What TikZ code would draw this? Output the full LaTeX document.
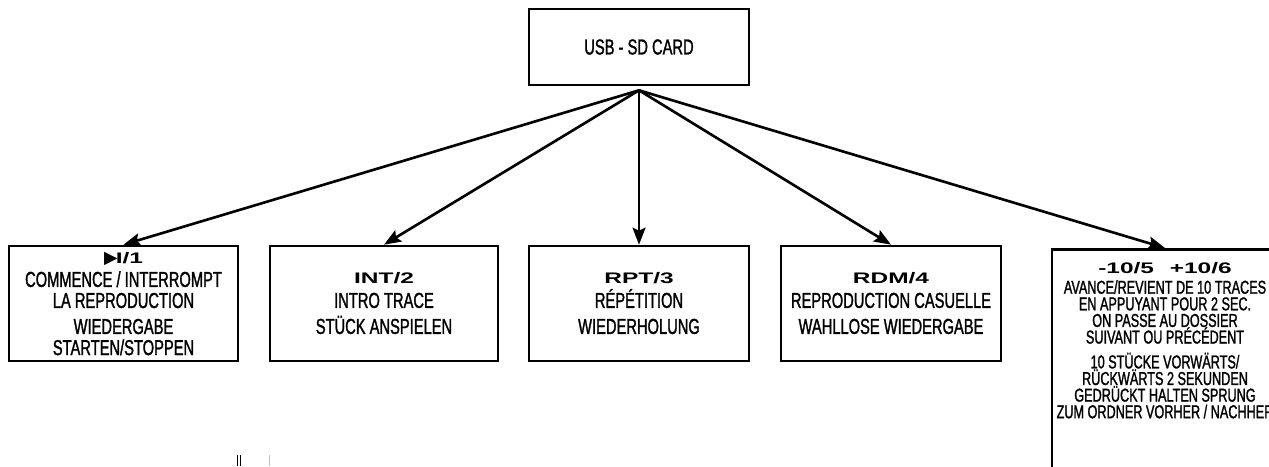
\documentclass[tikz,border=0pt]{standalone}
\usepackage{fontspec}
\setmainfont{Liberation Sans}[FakeStretch=0.68,FakeBold=1.3]
\newfontfamily\keyfont{Liberation Sans}[FakeStretch=1.6]
\newfontfamily\symfont{DejaVu Sans}
\usetikzlibrary{arrows.meta}
\newcommand{\key}[1]{{\keyfont\bfseries\fontsize{8.7}{12}\selectfont #1}}
\tikzset{
  box/.style={draw,line width=1.5pt,align=center,inner sep=0pt,minimum height=2.3cm,
    font=\fontsize{12.3}{12}\selectfont},
  arr/.style={line width=1.5pt,-{Stealth[length=0.34cm,width=0.26cm,inset=0.06cm]}}
}
\begin{document}
\begin{tikzpicture}
\path[use as bounding box,clip] (0,0) rectangle (25.38,9.32);
\node[box,minimum width=4.4cm,minimum height=1.52cm] (usb) at (12.78,8.38) {USB - SD CARD};
\coordinate (src) at ([yshift=-0.08cm]usb.south);
\node[box,minimum width=4.58cm] (play) at (2.47,3.25)
  {\key{{\symfont\fontsize{10}{12}\selectfont ▶}\kern-1pt I/1}\\[1.6pt]
   COMMENCE / INTERROMPT\\LA REPRODUCTION\\[2.8pt]WIEDERGABE\\STARTEN/STOPPEN};
\node[box,minimum width=4.56cm] (intro) at (7.68,3.25)
  {\key{INT/2}\\[1.6pt]INTRO TRACE\\[2.8pt]STÜCK ANSPIELEN};
\node[box,minimum width=4.4cm] (rpt) at (12.78,3.25)
  {\key{RPT/3}\\[1.6pt]RÉPÉTITION\\[2.8pt]WIEDERHOLUNG};
\node[box,minimum width=4.4cm] (rdm) at (17.82,3.25)
  {\key{RDM/4}\\[1.6pt]REPRODUCTION CASUELLE\\[2.8pt]WAHLLOSE WIEDERGABE};
\node[box,minimum width=4.52cm,minimum height=0pt,anchor=north,inner ysep=0.26cm,text depth=1.3cm,
  font=\fontsize{10.6}{9.45}\selectfont] (skip) at (23.30,4.36)
  {\key{-10/5\hspace{9pt}+10/6}\\[2.1pt]
   AVANCE/REVIENT DE 10 TRACES\\EN APPUYANT POUR 2 SEC.\\ON PASSE AU DOSSIER\\SUIVANT OU PRÉCÉDENT\\[4.7pt]
   10 STÜCKE VORWÄRTS/\\RÜCKWÄRTS 2 SEKUNDEN\\GEDRÜCKT HALTEN SPRUNG\\ZUM ORDNER VORHER / NACHHER};
\foreach \n in {play,intro,rpt,rdm,skip}
  \draw[arr] (src) -- (\n.north);
% crop marks
\draw[line width=0.4pt] (4.74,0) -- (4.74,0.22) (4.80,0) -- (4.80,0.22);
\draw[gray!50,line width=0.3pt] (5.38,0) -- (5.38,0.22);
\end{tikzpicture}
\end{document}
